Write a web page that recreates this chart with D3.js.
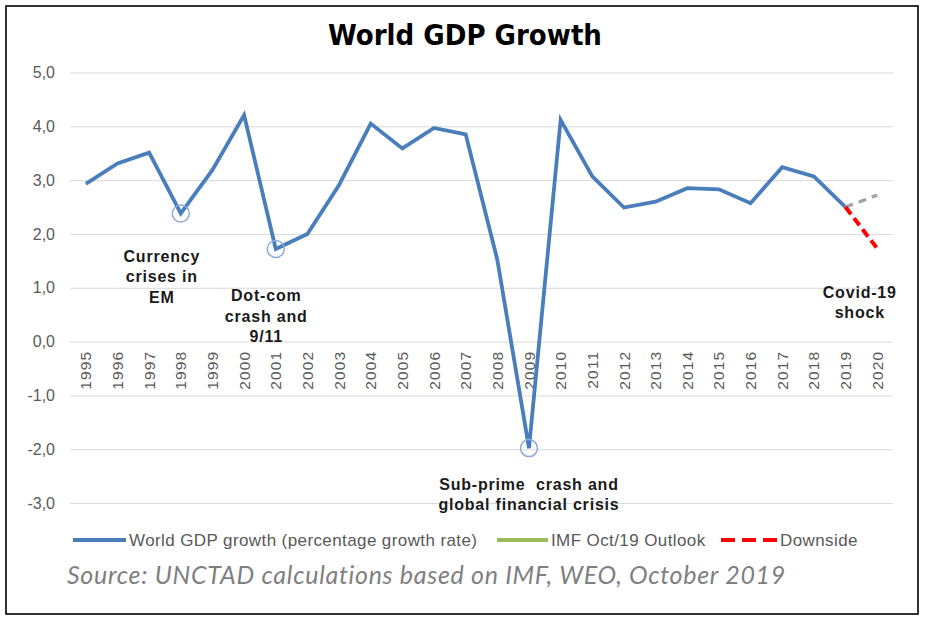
<!DOCTYPE html>
<html>
<head>
<meta charset="utf-8">
<script src="https://cdn.jsdelivr.net/npm/d3@7"></script>
<style>
  html, body { margin: 0; padding: 0; background: #fff; }
  svg { display: block; }
</style>
</head>
<body>
<svg id="chart" width="926" height="621"></svg>
<script>
// ---- data ----
const years = ["1995","1996","1997","1998","1999","2000","2001","2002","2003","2004","2005","2006","2007","2008","2009","2010","2011","2012","2013","2014","2015","2016","2017","2018","2019","2020"];
const gdpYears = years.slice(0, 25);
const gdpGrowth = [2.93, 3.31, 3.51, 2.38, 3.19, 4.21, 1.72, 2.00, 2.91, 4.05, 3.59, 3.97, 3.85, 1.52, -1.98, 4.12, 3.07, 2.49, 2.60, 2.85, 2.83, 2.57, 3.24, 3.07, 2.50];
const outlookYears = ["2019", "2020"];
const imfOutlook = [2.50, 2.72];
const downsideYears = ["2019", "2020"];
const downside = [2.50, 1.73];
const yTicks = [5, 4, 3, 2, 1, 0, -1, -2, -3];
const circledYears = ["1998", "2001", "2009"];
const annotations = [
  { year: "1998", value: 1.48, lines: ["Currency", "crises in", "EM"], dx: -0.6 },
  { year: "2001", value: 0.75, lines: ["Dot-com", "crash and", "9/11"], dx: -0.3 },
  { year: "2009", value: -2.76, lines: ["Sub-prime  crash and", "global financial crisis"], dx: 0 },
  { year: "2020", value: 0.81, lines: ["Covid-19", "shock"], dx: -0.55 }
];
const legendItems = [
  { label: "World GDP growth (percentage growth rate)", color: "#4a7ebb", dash: null },
  { label: "IMF Oct/19 Outlook", color: "#9bbb59", dash: null },
  { label: "Downside", color: "#ff0000", dash: "14,7" }
];
const titleText = "World GDP Growth";
const sourceText = "Source: UNCTAD calculations based on IMF, WEO, October 2019";

// ---- layout ----
const svg = d3.select("#chart");
const plotLeft = 70, plotRight = 893;
const x = d3.scaleBand().domain(years).range([plotLeft, plotRight]).paddingInner(0).paddingOuter(0);
const y = d3.scaleLinear().domain([-3, 5]).range([503, 72.5]);
const cx = d => x(d) + x.bandwidth() / 2;

// border
svg.append("rect").attr("x", 6).attr("y", 6).attr("width", 912).attr("height", 608)
  .attr("fill", "none").attr("stroke", "#000").attr("stroke-width", 1.6);

// title
svg.append("text").attr("x", 465).attr("y", 45).attr("text-anchor", "middle")
  .attr("font-family", "'Liberation Sans Narrow', 'DejaVu Sans Condensed', 'Liberation Sans', sans-serif")
  .attr("font-weight", "bold").attr("font-size", 29).attr("fill", "#000")
  .text(titleText);

// gridlines + y labels
const yAxis = d3.axisLeft(y).tickValues(yTicks).tickSize(-(plotRight - plotLeft)).tickPadding(15)
  .tickFormat(d => d3.format(".1f")(d).replace(".", ",").replace("−", "-"));
const gy = svg.append("g").attr("transform", `translate(${plotLeft},0)`).call(yAxis);
gy.select(".domain").remove();
gy.selectAll(".tick line").attr("stroke", "#d9d9d9").attr("stroke-width", 1);
gy.selectAll(".tick text").attr("fill", "#595959")
  .attr("font-family", "'Liberation Sans', Arial, sans-serif").attr("font-size", 16);

// x axis labels (rotated)
const xAxis = d3.axisBottom(x).tickSize(0).tickPadding(0);
const gx = svg.append("g").attr("transform", `translate(0,${y(0)})`).call(xAxis);
gx.select(".domain").remove();
gx.selectAll(".tick text")
  .attr("fill", "#595959")
  .attr("font-family", "'Liberation Sans', Arial, sans-serif").attr("font-size", 15.5)
  .attr("letter-spacing", 1.2)
  .attr("text-anchor", "end")
  .attr("transform", "rotate(-90)")
  .attr("x", -9).attr("y", 0).attr("dy", "0.36em");

// lines
const line = d3.line().x(d => cx(d[0])).y(d => y(d[1]));
svg.append("path").datum(gdpYears.map((yr, i) => [yr, gdpGrowth[i]]))
  .attr("d", line).attr("fill", "none").attr("stroke", "#4a7ebb")
  .attr("stroke-width", 3.8).attr("stroke-linejoin", "miter").attr("stroke-miterlimit", 4);
svg.append("path").datum(outlookYears.map((yr, i) => [yr, imfOutlook[i]]))
  .attr("d", line).attr("fill", "none").attr("stroke", "#a6a6a6")
  .attr("stroke-width", 3.5).attr("stroke-dasharray", "8,6");
svg.append("path").datum(downsideYears.map((yr, i) => [yr, downside[i]]))
  .attr("d", line).attr("fill", "none").attr("stroke", "#ff0000")
  .attr("stroke-width", 4).attr("stroke-dasharray", "9,5");

// circles
svg.selectAll("circle.mark").data(circledYears).enter().append("circle")
  .attr("class", "mark")
  .attr("cx", d => cx(d)).attr("cy", d => y(gdpGrowth[gdpYears.indexOf(d)]))
  .attr("r", 8.5).attr("fill", "none").attr("stroke", "#8eaadb").attr("stroke-width", 1.5);

// annotations
annotations.forEach(a => {
  const t = svg.append("text")
    .attr("text-anchor", "middle")
    .style("white-space", "pre")
    .attr("font-family", "'Liberation Sans', Arial, sans-serif")
    .attr("font-weight", "bold").attr("font-size", 16).attr("letter-spacing", 0.8).attr("fill", "#1a1a1a");
  a.lines.forEach((ln, i) => {
    t.append("tspan").attr("x", cx(a.year) + a.dx * x.bandwidth()).attr("y", y(a.value) + i * 20.3).text(ln);
  });
});

// legend
const legY = 540;
const legendX = [73, 497, 721];
const legendLen = [53, 51, 56];
legendItems.forEach((it, i) => {
  svg.append("line").attr("x1", legendX[i]).attr("x2", legendX[i] + legendLen[i])
    .attr("y1", legY).attr("y2", legY)
    .attr("stroke", it.color).attr("stroke-width", 4)
    .attr("stroke-dasharray", it.dash);
  svg.append("text").attr("x", legendX[i] + legendLen[i] + 3).attr("y", legY).attr("dy", "0.35em")
    .attr("font-family", "'Liberation Sans', Arial, sans-serif").attr("font-size", 17)
    .attr("letter-spacing", 0.4)
    .attr("fill", "#595959").text(it.label);
});

// source
svg.append("text").attr("x", 67).attr("y", 584)
  .attr("font-family", "Lato, 'Open Sans', sans-serif").attr("font-style", "italic")
  .attr("font-size", 25).attr("letter-spacing", 0.7).attr("fill", "#7f7f7f").text(sourceText);
</script>
</body>
</html>
